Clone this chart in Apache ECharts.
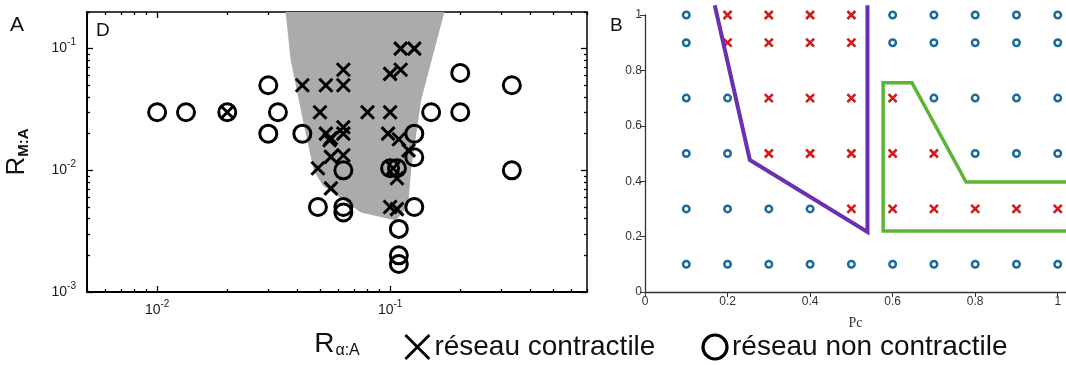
<!DOCTYPE html>
<html><head><meta charset="utf-8">
<script src="https://cdn.jsdelivr.net/npm/echarts@6/dist/echarts.min.js"></script>
<style>html,body{margin:0;padding:0;background:#fff}#c{width:1066px;height:365px}</style>
</head><body><div id="c"></div>
<script>
// ---------- Panel A (log-log) ----------
const aCircleX = [0.01,0.0133,0.02,0.03,0.033,0.03,0.042,0.15,0.2,0.2,0.333,0.333,0.127,0.127,0.063,0.1,0.107,0.049,0.063,0.063,0.127,0.109,0.109,0.109];
const aCircleY = [0.03,0.03,0.03,0.05,0.03,0.02,0.02,0.03,0.03,0.063,0.05,0.01,0.02,0.0128,0.01,0.0104,0.0104,0.005,0.005,0.0045,0.005,0.0033,0.002,0.0017];
const aCrossX = [0.02,0.042,0.053,0.063,0.063,0.05,0.08,0.1,0.111,0.127,0.1,0.111,0.053,0.0557,0.055,0.063,0.063,0.098,0.109,0.12,0.0557,0.063,0.049,0.103,0.107,0.0557,0.1,0.107];
const aCrossY = [0.03,0.05,0.05,0.067,0.05,0.03,0.03,0.03,0.1,0.1,0.062,0.067,0.02,0.0184,0.0177,0.0226,0.02,0.02,0.018,0.0146,0.0129,0.0133,0.0104,0.0104,0.0086,0.0071,0.005,0.0048];
const aZoneX = [0.0356,0.0374,0.0422,0.047,0.0514,0.075,0.106,0.1196,0.123,0.136,0.171];
const aZoneY = [0.2,0.081,0.0259,0.01,0.0075,0.0045,0.00386,0.00514,0.01,0.038,0.2];
const aXMajor = [0.01, 0.1];
const aYMajor = [0.001, 0.01, 0.1];
const aXMinor = [0.005,0.006,0.007,0.008,0.009,0.02,0.03,0.04,0.05,0.06,0.07,0.08,0.09,0.2,0.3,0.4,0.5,0.6,0.7];
const aYMinor = [0.002,0.003,0.004,0.005,0.006,0.007,0.008,0.009,0.02,0.03,0.04,0.05,0.06,0.07,0.08,0.09,0.2];
const legendNames = ['réseau contractile', 'réseau non contractile'];

// ---------- Panel B ----------
const bCols = [0.1,0.2,0.3,0.4,0.5,0.6,0.7,0.8,0.9,1.0];
const bRows = [1.0,0.9,0.7,0.5,0.3,0.1];
const bGrid = ['OXXXXOOOOO','OXXXXOOOOO','OOXXXXOOOO','OOXXXXXOOO','OOOOXXXXXX','OOOOOOOOOO'];
const bPurpleX = [0.169,0.254,0.539,0.539];
const bPurpleY = [1.035,0.477,0.217,1.035];
const bGreenX = [1.02,0.577,0.577,0.647,0.778,1.02];
const bGreenY = [0.22,0.22,0.755,0.755,0.397,0.397];
const bTicks = [0,0.2,0.4,0.6,0.8,1];

const zip = (xs, ys) => xs.map((x, i) => [x, ys[i]]);
const bCross = [], bCircle = [];
bRows.forEach((y, r) => bCols.forEach((x, c) => (bGrid[r][c] === 'X' ? bCross : bCircle).push([x, y])));

const CROSS = 'path://M0,0L10,10M10,0L0,10';
const font = 'Liberation Sans, Arial, sans-serif';
const supFmt = v => '{b|10}{s|' + Math.round(Math.log10(v)) + '}';
const supRich = {
  b: { fontSize: 14, lineHeight: 22, color: '#1a1a1a', fontFamily: font },
  s: { fontSize: 10, verticalAlign: 'top', color: '#1a1a1a', fontFamily: font }
};

function logAxisX(pos, major, withLabel, extra) {
  return Object.assign({
    gridIndex: 0, type: 'log', min: 0.005, max: 0.7, position: pos,
    axisLine: { show: major, lineStyle: { color: '#000', width: pos === 'bottom' ? 2 : 1.5 } },
    axisTick: { show: true, inside: true, length: major ? 6 : 3, customValues: major ? aXMajor : aXMinor, lineStyle: { color: '#000', width: 1.3 } },
    axisLabel: withLabel ? { show: true, customValues: aXMajor, formatter: supFmt, rich: supRich, margin: 7 } : { show: false },
    splitLine: { show: false }
  }, extra || {});
}
function logAxisY(pos, major, withLabel, extra) {
  return Object.assign({
    gridIndex: 0, type: 'log', min: 0.001, max: 0.2, position: pos,
    axisLine: { show: major, lineStyle: { color: '#000', width: pos === 'left' ? 2 : 1.5 } },
    axisTick: { show: true, inside: true, length: major ? 6 : 3, customValues: major ? aYMajor : aYMinor, lineStyle: { color: '#000', width: 1.3 } },
    axisLabel: withLabel ? { show: true, customValues: aYMajor, formatter: supFmt, rich: supRich, margin: 11 } : { show: false },
    splitLine: { show: false }
  }, extra || {});
}

const chart = echarts.init(document.getElementById('c'), null, { renderer: 'canvas' });
chart.setOption({
  animation: false,
  backgroundColor: '#fff',
  grid: [
    { left: 87, top: 12, width: 500, height: 280 },
    { left: 645, top: 15, width: 422, height: 277 }
  ],
  xAxis: [
    logAxisX('bottom', true, true, {
      name: '{r|R}{s|α:A}', nameLocation: 'middle', nameGap: 37,
      nameTextStyle: { rich: { r: { fontSize: 28, lineHeight: 30, fontFamily: font, color: '#111' }, s: { fontSize: 16, verticalAlign: 'bottom', fontFamily: font, color: '#111', padding: [0, 0, 0, 1] } } }
    }),
    logAxisX('bottom', false, false),
    logAxisX('top', true, false),
    logAxisX('top', false, false),
    {
      gridIndex: 1, type: 'value', min: 0, max: 1.02, position: 'bottom',
      axisLine: { lineStyle: { color: '#333', width: 1.3 } },
      axisTick: { customValues: bTicks, length: 5, lineStyle: { color: '#333' } },
      axisLabel: { customValues: bTicks, fontSize: 12, color: '#333', margin: 4, fontFamily: font },
      splitLine: { show: false },
      name: 'Pc', nameLocation: 'middle', nameGap: 24,
      nameTextStyle: { fontFamily: 'Liberation Serif, serif', fontSize: 14, color: '#333' }
    }
  ],
  yAxis: [
    logAxisY('left', true, true, {
      name: '{r|R}{s|M:A}', nameLocation: 'middle', nameGap: 56,
      nameTextStyle: { rich: { r: { fontSize: 26, lineHeight: 28, fontFamily: font, color: '#111' }, s: { fontSize: 15, verticalAlign: 'bottom', fontFamily: font, color: '#111', fontWeight: 'bold' } } }
    }),
    logAxisY('left', false, false),
    logAxisY('right', true, false),
    logAxisY('right', false, false),
    {
      gridIndex: 1, type: 'value', min: 0, max: 1, interval: 0.2, position: 'left',
      axisLine: { lineStyle: { color: '#333', width: 1.3 } },
      axisTick: { length: 5, lineStyle: { color: '#333' } },
      axisLabel: { fontSize: 12, color: '#333', margin: 3, fontFamily: font },
      splitLine: { show: false }
    }
  ],
  legend: {
    left: 404, top: 333, padding: 0, itemGap: 46, itemWidth: 24, itemHeight: 24,
    textStyle: { fontSize: 28, fontFamily: font, color: '#111' },
    data: [
      { name: legendNames[0], icon: CROSS, itemStyle: { color: 'transparent', borderColor: '#000', borderWidth: 2.8, opacity: 1 } },
      { name: legendNames[1], icon: 'circle', itemStyle: { color: 'transparent', borderColor: '#000', borderWidth: 3.2, opacity: 1 } }
    ],
    selectedMode: false
  },
  graphic: [
    { type: 'text', left: 10, top: 15, style: { text: 'A', fontSize: 21, fontFamily: font, fill: '#111' } },
    { type: 'text', left: 96, top: 21, style: { text: 'D', fontSize: 19, fontFamily: font, fill: '#111' } },
    { type: 'text', left: 610, top: 16, style: { text: 'B', fontSize: 19, fontFamily: font, fill: '#111' } }
  ],
  series: [
    {
      type: 'custom', xAxisIndex: 0, yAxisIndex: 0, z: 1, silent: true,
      data: [0],
      renderItem: (params, api) => ({
        type: 'polygon',
        shape: { points: aZoneX.map((x, i) => api.coord([x, aZoneY[i]])) },
        style: { fill: '#ababab' }
      })
    },
    {
      name: legendNames[1], type: 'scatter', xAxisIndex: 0, yAxisIndex: 0, z: 3,
      symbol: 'circle', symbolSize: 17,
      itemStyle: { color: 'transparent', borderColor: '#000', borderWidth: 3, opacity: 1 },
      data: zip(aCircleX, aCircleY)
    },
    {
      name: legendNames[0], type: 'scatter', xAxisIndex: 0, yAxisIndex: 0, z: 4,
      symbol: CROSS, symbolSize: 13,
      itemStyle: { color: 'transparent', borderColor: '#000', borderWidth: 3, opacity: 1 },
      data: zip(aCrossX, aCrossY)
    },
    {
      name: 'B-non', type: 'scatter', xAxisIndex: 4, yAxisIndex: 4, z: 3,
      symbol: 'circle', symbolSize: 6.5,
      itemStyle: { color: '#fff', borderColor: '#1a6b98', borderWidth: 2.5, opacity: 1 },
      data: bCircle
    },
    {
      name: 'B-contr', type: 'scatter', xAxisIndex: 4, yAxisIndex: 4, z: 3,
      symbol: CROSS, symbolSize: 8,
      itemStyle: { color: 'transparent', borderColor: '#d01c1c', borderWidth: 2.6, opacity: 1 },
      data: bCross
    },
    {
      name: 'B-purple', type: 'line', xAxisIndex: 4, yAxisIndex: 4, z: 5, clip: false,
      symbol: 'none', lineStyle: { color: '#6a30b0', width: 4, join: 'miter' },
      data: zip(bPurpleX, bPurpleY)
    },
    {
      name: 'B-green', type: 'line', xAxisIndex: 4, yAxisIndex: 4, z: 5, clip: false,
      symbol: 'none', lineStyle: { color: '#5cb636', width: 3.5, join: 'miter' },
      data: zip(bGreenX, bGreenY)
    }
  ]
});
</script></body></html>
